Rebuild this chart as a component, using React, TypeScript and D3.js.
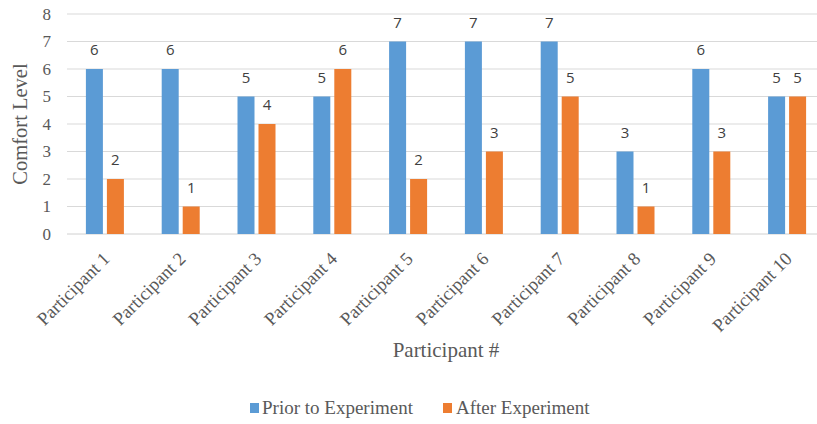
import React from "react";
import * as d3 from "d3";

const categories = ["Participant 1","Participant 2","Participant 3","Participant 4","Participant 5","Participant 6","Participant 7","Participant 8","Participant 9","Participant 10"];
const priorValues = [6, 6, 5, 5, 7, 7, 7, 3, 6, 5];
const afterValues = [2, 1, 4, 6, 2, 3, 5, 1, 3, 5];
const seriesNames = ["Prior to Experiment", "After Experiment"];
const seriesColors = ["#5B9BD5", "#ED7D31"];
const yTicks = [0, 1, 2, 3, 4, 5, 6, 7, 8];

export default function App() {
  const W = 817, H = 424;
  const x = d3.scaleBand<string>().domain(categories).range([67, 825]).paddingInner(0).paddingOuter(0);
  const y = d3.scaleLinear().domain([0, 8]).range([234, 14]);
  const barW = 17;
  const gap = 4;
  const series = [priorValues, afterValues];
  const serif = "Liberation Serif";
  const sans = "Open Sans";
  return (
    <svg width={W} height={H} style={{ position: "absolute", left: 0, top: 0, background: "#fff" }}>
      {yTicks.map((t) => (
        <g key={t}>
          <line x1={67} x2={817} y1={y(t)} y2={y(t)} stroke={t === 0 ? "#D0D0D0" : "#D9D9D9"} strokeWidth={1} />
          <text x={51} y={y(t)} dy="0.35em" textAnchor="end" fontFamily={serif} fontSize={17} fill="#595959">{t}</text>
        </g>
      ))}
      {categories.map((c, i) => {
        const cx = (x(c) as number) + x.bandwidth() / 2;
        return (
          <g key={c}>
            {series.map((vals, s) => {
              const bx = s === 0 ? cx - gap / 2 - barW : cx + gap / 2;
              const v = vals[i];
              return (
                <g key={s}>
                  <rect x={bx} y={y(v)} width={barW} height={y(0) - y(v)} fill={seriesColors[s]} />
                  <text x={bx + barW / 2} y={y(v) - 14} textAnchor="middle" fontFamily={sans} fontSize={15} fill="#404040">{v}</text>
                </g>
              );
            })}
            <text
              transform={`translate(${cx + 6},${y(0) + 26}) rotate(-45)`}
              textAnchor="end"
              fontFamily={serif}
              fontSize={18.5}
              fill="#595959"
            >{c}</text>
          </g>
        );
      })}
      <text transform={`translate(27,124) rotate(-90)`} textAnchor="middle" fontFamily={serif} fontSize={20.5} fill="#595959">Comfort Level</text>
      <text x={446} y={357} textAnchor="middle" fontFamily={serif} fontSize={21} fill="#595959">Participant #</text>
      <g>
        <rect x={250} y={403} width={9} height={10} fill={seriesColors[0]} />
        <text x={262} y={414} fontFamily={serif} fontSize={19} fill="#595959">{seriesNames[0]}</text>
        <rect x={443} y={403} width={9} height={10} fill={seriesColors[1]} />
        <text x={456} y={414} fontFamily={serif} fontSize={19} fill="#595959">{seriesNames[1]}</text>
      </g>
    </svg>
  );
}
